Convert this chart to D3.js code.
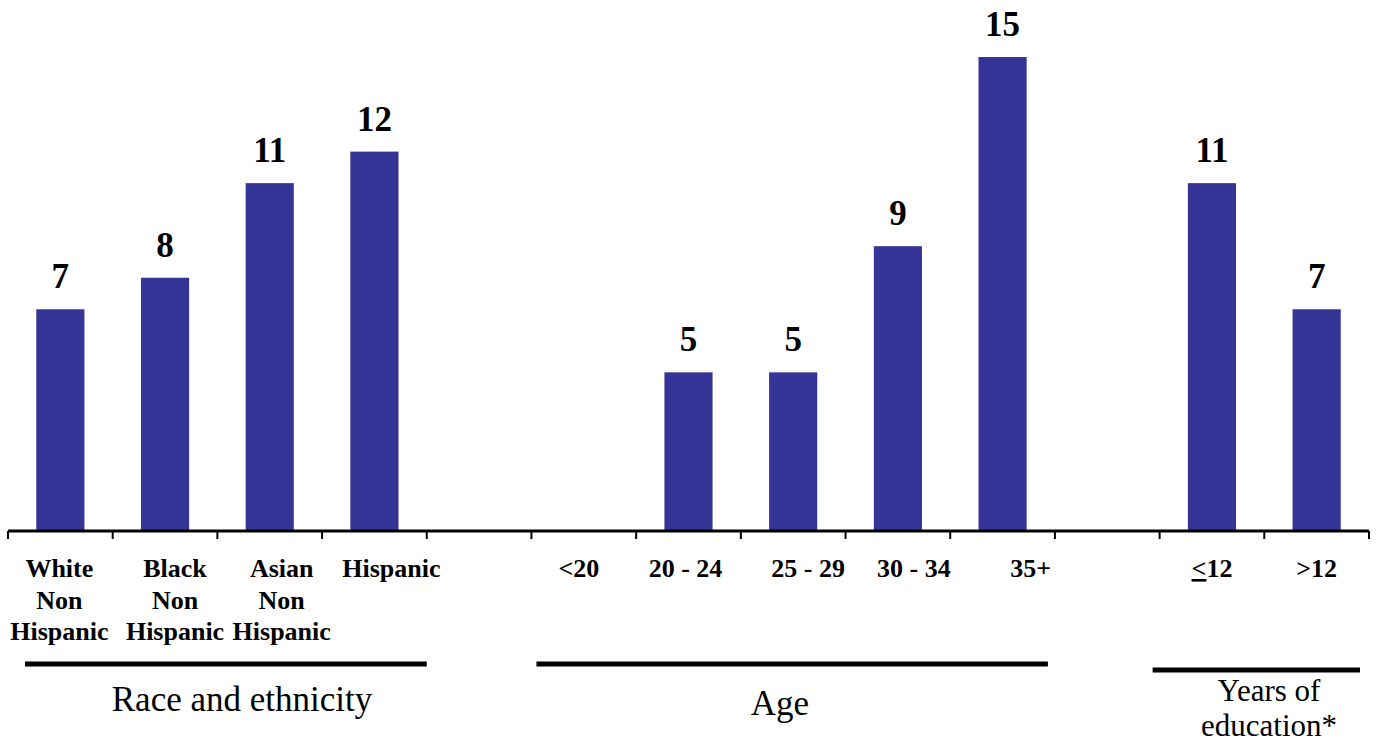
<!DOCTYPE html>
<html>
<head>
<meta charset="utf-8">
<script src="https://cdn.jsdelivr.net/npm/d3@7"></script>
<style>
  html, body { margin: 0; padding: 0; background: #fff; }
  svg { display: block; font-family: "Liberation Serif", "Times New Roman", serif; }
</style>
</head>
<body>
<svg id="chart" width="1377" height="744"></svg>
<script>
// ---- data ----
const categories = ["White Non Hispanic", "Black Non Hispanic", "Asian Non Hispanic", "Hispanic", "gap1",
                    "<20", "20 - 24", "25 - 29", "30 - 34", "35+", "gap2", "<=12", ">12"];
const tickLabelLines = [["White", "Non", "Hispanic"], ["Black", "Non", "Hispanic"], ["Asian", "Non", "Hispanic"], ["Hispanic"], [],
                        ["<20"], ["20 - 24"], ["25 - 29"], ["30 - 34"], ["35+"], [], ["≤12"], [">12"]];
const values = [7, 8, 11, 12, null, 0, 5, 5, 9, 15, null, 11, 7];
const valueLabels = ["7", "8", "11", "12", "", "", "5", "5", "9", "15", "", "11", "7"];
const groupNames = [["Race and ethnicity"], ["Age"], ["Years of", "education*"]];
const groupStart = [0, 5, 11];
const groupEnd = [3, 9, 12];

// ---- layout (not data) ----
const labelNudge = [-1, 10, 12, 17, 0, -5, -3, 15, 16, 28, 0, 0, 0];
const groupLineInset = [[17, 0], [5, 7], [-7, 9]];
const groupLineY = [664, 664, 670];
const groupTextX = [242, 780, 1269];
const groupTextY = [711, 715, 701];
const groupFont = [35, 35, 31];

const svg = d3.select("#chart");
const x = d3.scaleBand().domain(categories).range([8, 1369]).paddingInner(0.54).paddingOuter(0.27);
const y = d3.scaleLinear().domain([0, 15]).range([530, 57]);
const step = x.step();
const slotLeft = c => x(c) - step * x.paddingInner() / 2;
const barColor = "#353597";

// bars
const data = categories.map((c, i) => ({c, v: values[i], lbl: valueLabels[i]}));
svg.append("g").selectAll("rect")
  .data(data.filter(d => d.v))
  .join("rect")
  .attr("x", d => x(d.c))
  .attr("y", d => y(d.v))
  .attr("width", x.bandwidth())
  .attr("height", d => y(0) - y(d.v))
  .attr("fill", barColor);

// value labels
svg.append("g").selectAll("text")
  .data(data.filter(d => d.lbl))
  .join("text")
  .attr("x", d => x(d.c) + x.bandwidth() / 2)
  .attr("y", d => y(d.v) - 21)
  .attr("text-anchor", "middle")
  .attr("font-weight", "bold")
  .attr("font-size", 35)
  .attr("fill", "#000")
  .text(d => d.lbl);

// axis line and ticks
const bounds = categories.map(c => slotLeft(c)).concat([slotLeft(categories[categories.length - 1]) + step]);
svg.append("line")
  .attr("x1", bounds[0]).attr("x2", bounds[bounds.length - 1])
  .attr("y1", y(0) + 1).attr("y2", y(0) + 1)
  .attr("stroke", "#000").attr("stroke-width", 3);
svg.append("g").selectAll("line")
  .data(bounds)
  .join("line")
  .attr("x1", d => d).attr("x2", d => d)
  .attr("y1", y(0) + 1).attr("y2", y(0) + 9)
  .attr("stroke", "#000").attr("stroke-width", 2);

// tick labels
const tl = svg.append("g").attr("font-weight", "bold").attr("font-size", 26).attr("text-anchor", "middle");
categories.forEach((c, i) => {
  const lines = tickLabelLines[i];
  if (!lines.length) return;
  const t = tl.append("text")
    .attr("x", x(c) + x.bandwidth() / 2 + labelNudge[i])
    .attr("y", 577);
  lines.forEach((ln, j) => {
    const ts = t.append("tspan")
      .attr("x", x(c) + x.bandwidth() / 2 + labelNudge[i])
      .attr("dy", j === 0 ? 0 : 31.5);
    if (ln === "≤12") {
      ts.append("tspan").attr("text-decoration", "underline").text("<");
      ts.append("tspan").text("12");
    } else {
      ts.text(ln);
    }
  });
});

// group lines and labels
groupNames.forEach((g, i) => {
  const x1 = slotLeft(categories[groupStart[i]]) + groupLineInset[i][0];
  const x2 = slotLeft(categories[groupEnd[i]]) + step - groupLineInset[i][1];
  svg.append("line")
    .attr("x1", x1).attr("x2", x2)
    .attr("y1", groupLineY[i]).attr("y2", groupLineY[i])
    .attr("stroke", "#000").attr("stroke-width", 5);
  const t = svg.append("text")
    .attr("x", groupTextX[i]).attr("y", groupTextY[i])
    .attr("text-anchor", "middle")
    .attr("font-size", groupFont[i])
    .attr("fill", "#000");
  g.forEach((ln, j) => {
    t.append("tspan").attr("x", groupTextX[i]).attr("dy", j === 0 ? 0 : 35).text(ln);
  });
});
</script>
</body>
</html>
